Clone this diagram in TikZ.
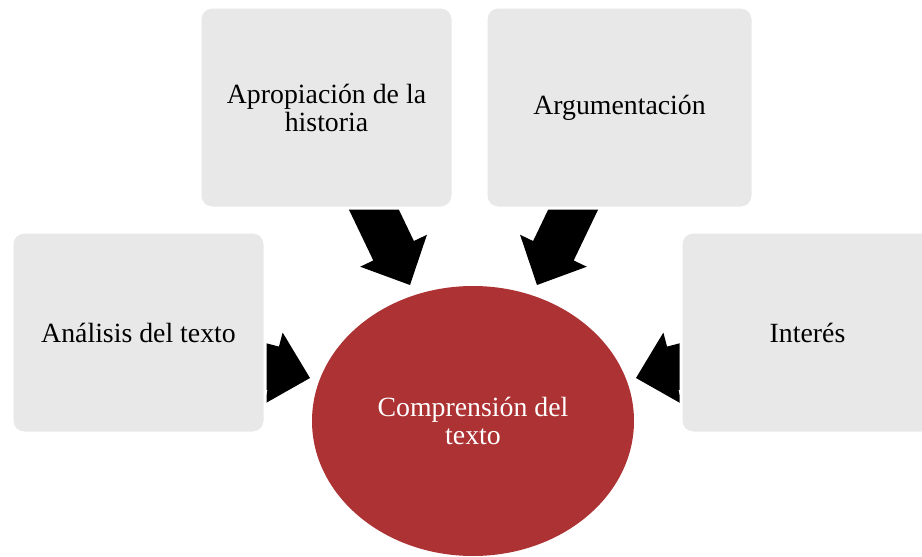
\documentclass[tikz,border=0pt]{standalone}
\usepackage{fontspec}
\setmainfont{Liberation Serif}
\usepackage{tikz}
\usetikzlibrary{shapes.geometric}

\definecolor{boxgray}{HTML}{E8E8E8}
\definecolor{compred}{HTML}{AD3233}

\tikzset{
    blockarrow/.pic={
        \fill[black] (0,0) -- (-38,37) -- (-38,22.5) -- (-120,22.5)
            -- (-120,-22.5) -- (-38,-22.5) -- (-38,-37) -- cycle;
    }
}

\begin{document}
\begin{tikzpicture}[x=0.5pt, y=-0.5pt,
        topic/.style={rectangle, rounded corners=6pt, fill=boxgray, draw=white,
            line width=1.5pt, minimum height=100.5pt, inner sep=0pt, align=center,
            font=\fontsize{13.9}{14}\selectfont},
        centre/.style={ellipse, fill=compred, minimum width=161pt, minimum height=135pt,
            inner sep=0pt, align=center, text=white, font=\fontsize{13.9}{14}\selectfont}]

    \clip (0,0) rectangle (922,557);

    % arrows go below the boxes
    \pic[rotate=-64.4] (arrApr) at (410,285) {blockarrow};
    \pic[rotate=-115.6] (arrArg) at (537,285) {blockarrow};
    \pic[rotate=-14.7] (arrAna) at (310,378) {blockarrow};
    \pic[rotate=-165.3] (arrInt) at (636,378) {blockarrow};

    \node[topic, minimum width=126.5pt] (apropiacion) at (326.5,107.5) {Apropiación de la\\historia};
    \node[topic, minimum width=133.5pt] (argumentacion) at (619.5,107.5) {Argumentación};
    \node[topic, minimum width=126.5pt] (analisis) at (138.5,332.5) {Análisis del texto};
    \node[topic, minimum width=126.5pt] (interes) at (807.5,332.5) {Interés};

    \node[centre] (comprension) at (473,421) {Comprensión del\\texto};

\end{tikzpicture}
\end{document}
